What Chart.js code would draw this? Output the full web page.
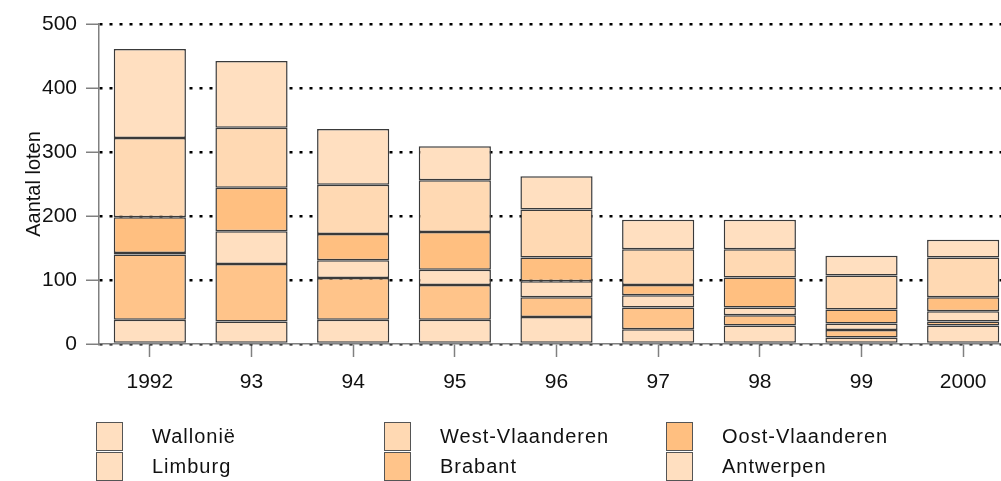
<!DOCTYPE html>
<html>
<head>
<meta charset="utf-8">
<script src="https://cdn.jsdelivr.net/npm/chart.js@4/dist/chart.umd.min.js"></script>
<style>
  html, body { margin: 0; padding: 0; background: #fff; overflow: hidden; }
  #wrap { position: relative; width: 1001px; height: 481px; overflow: hidden; }
  #chart { position: absolute; left: 0; top: 0; }
  #legend { position: absolute; left: 0; top: 0; width: 1001px; height: 481px; pointer-events: none;
    font-family: "Liberation Sans", Arial, sans-serif; font-size: 20px; letter-spacing: 1px; color: #111; }
  .item { position: absolute; height: 30px; }
  .box { position: absolute; left: 0; top: 0; width: 27px; height: 29px; border: 1px solid #555; box-sizing: border-box; }
  .lbl { position: absolute; top: 3px; white-space: nowrap; }
</style>
</head>
<body>
<div id="wrap">
  <canvas id="chart" width="1014" height="481"></canvas>
  <div id="legend"></div>
</div>
<script>
(function () {
  'use strict';

  // categories
  var years = ['1992', '93', '94', '95', '96', '97', '98', '99', '2000'];

  // series, stacked bottom-up
  var antwerpen = [38, 35, 38, 38, 42, 23, 29, 10, 29];
  var brabant = [102, 90, 65, 54, 31, 34, 16, 12, 6];
  var limburg = [2, 51, 28, 24, 25, 19, 12, 10, 16];
  var oostVlaanderen = [56, 68, 41, 59, 37, 16, 47, 22, 22];
  var westVlaanderen = [124, 94, 77, 81, 75, 56, 44, 53, 62];
  var wallonie = [139, 104, 87, 53, 52, 46, 46, 31, 28];

  var yTicks = [0, 100, 200, 300, 400, 500];

  var fontFamily = '"Liberation Sans", Arial, sans-serif';

  var colors = {
    antwerpen: '#FFDFC0',
    brabant: '#FFC48A',
    limburg: '#FFDFC0',
    oost: '#FFBF80',
    west: '#FFD9B3',
    wallonie: '#FFDFC0'
  };

  function ds(label, data, color) {
    return {
      label: label,
      data: data,
      backgroundColor: color,
      borderColor: '#3a3a3a',
      borderWidth: 1.5,
      borderSkipped: false,
      barPercentage: 0.71,
      categoryPercentage: 1
    };
  }

  var datasets = [
    ds('Antwerpen', antwerpen, colors.antwerpen),
    ds('Brabant', brabant, colors.brabant),
    ds('Limburg', limburg, colors.limburg),
    ds('Oost-Vlaanderen', oostVlaanderen, colors.oost),
    ds('West-Vlaanderen', westVlaanderen, colors.west),
    ds('Wallonië', wallonie, colors.wallonie)
  ];

  var chart = new Chart(document.getElementById('chart'), {
    type: 'bar',
    data: { labels: years, datasets: datasets },
    options: {
      responsive: false,
      animation: false,
      layout: { padding: { top: 24, right: 0, bottom: 77, left: 0 } },
      plugins: { legend: { display: false }, tooltip: { enabled: false } },
      scales: {
        x: {
          stacked: true,
          offset: true,
          grid: {
            offset: false,
            drawOnChartArea: false,
            tickLength: 13,
            tickColor: '#808080',
            tickWidth: 1.5
          },
          border: { color: '#808080', width: 1.5 },
          ticks: {
            color: '#111',
            padding: 13,
            maxRotation: 0,
            font: { family: fontFamily, size: 21 }
          },
          afterFit: function (s) { s.height = 60; }
        },
        y: {
          stacked: true,
          min: 0,
          max: 500,
          afterBuildTicks: function (s) {
            s.ticks = yTicks.map(function (v) { return { value: v }; });
          },
          grid: {
            color: '#000',
            lineWidth: 2.5,
            tickLength: 13,
            tickColor: '#808080',
            tickWidth: 1.5,
            tickBorderDash: []
          },
          border: { color: '#808080', width: 1.5, dash: [3, 7] },
          ticks: {
            color: '#111',
            padding: 9,
            font: { family: fontFamily, size: 21 }
          },
          title: {
            display: true,
            text: 'Aantal loten',
            color: '#111',
            font: { family: fontFamily, size: 20 },
            padding: { top: 22, bottom: 0 }
          },
          afterFit: function (s) { s.width = 99; }
        }
      }
    }
  });

  // legend in the reference's reading order
  var legendOrder = ['Wallonië', 'West-Vlaanderen', 'Oost-Vlaanderen', 'Limburg', 'Brabant', 'Antwerpen'];
  var colX = [96, 384, 666];
  var rowY = [422, 452];
  var legend = document.getElementById('legend');
  legendOrder.forEach(function (name, i) {
    var d = chart.data.datasets.filter(function (x) { return x.label === name; })[0];
    var item = document.createElement('div');
    item.className = 'item';
    item.style.left = colX[i % 3] + 'px';
    item.style.top = rowY[Math.floor(i / 3)] + 'px';
    var box = document.createElement('div');
    box.className = 'box';
    box.style.background = d.backgroundColor;
    var lbl = document.createElement('div');
    lbl.className = 'lbl';
    lbl.style.left = '56px';
    lbl.textContent = name;
    item.appendChild(box);
    item.appendChild(lbl);
    legend.appendChild(item);
  });
})();
</script>
</body>
</html>
